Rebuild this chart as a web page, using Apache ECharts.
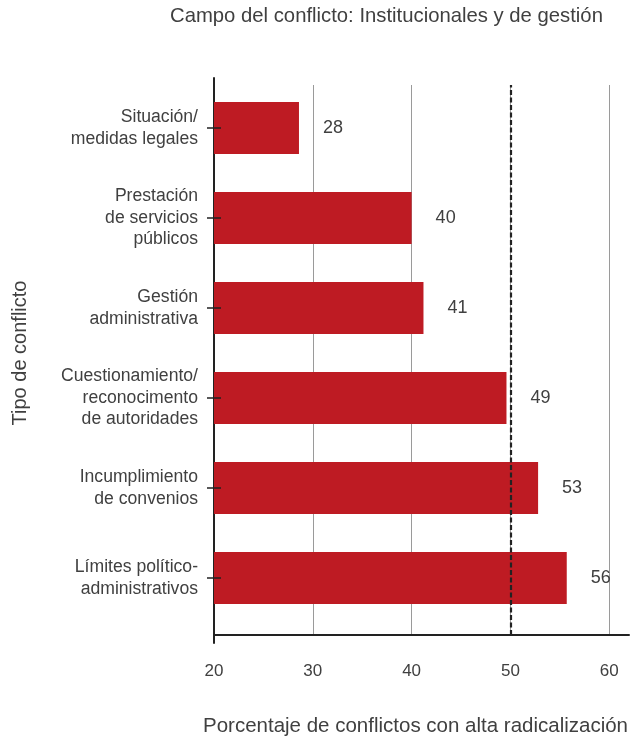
<!DOCTYPE html>
<html>
<head>
<meta charset="utf-8">
<script src="https://cdn.jsdelivr.net/npm/echarts@6/dist/echarts.min.js"></script>
<style>
  html, body { margin: 0; padding: 0; background: #fff; }
  #chart { width: 630px; height: 741px; }
</style>
</head>
<body>
<div id="chart"></div>
<script>
const categories = [
  'Situación/\nmedidas legales',
  'Prestación\nde servicios\npúblicos',
  'Gestión\nadministrativa',
  'Cuestionamiento/\nreconocimento\nde autoridades',
  'Incumplimiento\nde convenios',
  'Límites político-\nadministrativos'
];
const values = [28.6, 40.0, 41.2, 49.6, 52.8, 55.7];
const valueLabels = ['28', '40', '41', '49', '53', '56'];
const threshold = 50;
const xTicks = [20, 30, 40, 50, 60];

const textColor = '#404040';
const axisColor = '#222';

const chart = echarts.init(document.getElementById('chart'));

const option = {
  animation: false,
  textStyle: { fontFamily: 'Liberation Sans, Arial, sans-serif', color: textColor },
  title: {
    text: 'Campo del conflicto: Institucionales y de gestión',
    left: 165,
    top: 1,
    textStyle: { fontSize: 20.3, fontWeight: 'normal', color: textColor }
  },
  grid: [
    // bars
    { left: 214, width: 415, top: 83, height: 540, outerBoundsMode: 'none' },
    // gridlines, x axis, dashed line
    { left: 214, width: 415, top: 85, height: 550, outerBoundsMode: 'none' },
    // y axis line
    { left: 214, width: 415, top: 78, height: 565, outerBoundsMode: 'none' }
  ],
  xAxis: [
    { gridIndex: 0, type: 'value', min: 20, max: 62, interval: 10, show: false },
    {
      gridIndex: 1,
      type: 'value',
      min: 20,
      max: 62,
      interval: 10,
      axisLine: { show: true, lineStyle: { color: axisColor, width: 2 } },
      axisTick: { show: false },
      splitLine: {
        show: true,
        showMinLine: false,
        showMaxLine: false,
        lineStyle: { color: '#9a9a9a', width: 1 }
      },
      axisLabel: {
        margin: 28,
        fontSize: 17,
        color: textColor,
        showMaxLabel: false,
        formatter: (v) => (xTicks.includes(v) ? String(v) : '')
      },
      name: 'Porcentaje de conflictos con alta radicalización',
      nameLocation: 'middle',
      nameGap: 81,
      nameTextStyle: { fontSize: 20.5, color: textColor, padding: [0, 12, 0, 0] }
    },
    { gridIndex: 2, type: 'value', show: false }
  ],
  yAxis: [
    {
      gridIndex: 0,
      type: 'category',
      inverse: true,
      data: categories,
      axisLine: { show: false },
      axisTick: { show: true, alignWithLabel: true, length: 7, lineStyle: { color: axisColor, width: 1.5 } },
      axisLabel: { margin: 16, fontSize: 17.6, lineHeight: 21.5, color: textColor, align: 'right' },
      name: 'Tipo de conflicto',
      nameLocation: 'middle',
      nameGap: 184,
      nameRotate: 90,
      nameTextStyle: { fontSize: 20, color: textColor }
    },
    {
      // inner half of the ticks, drawn over the bars
      gridIndex: 0,
      type: 'category',
      position: 'left',
      offset: 0,
      inverse: true,
      z: 10,
      data: categories,
      axisLine: { show: false },
      axisTick: { show: true, inside: true, alignWithLabel: true, length: 7, lineStyle: { color: axisColor, width: 1.5 } },
      axisLabel: { show: false }
    },
    { gridIndex: 1, type: 'value', min: 0, max: 1, show: false },
    {
      gridIndex: 2,
      type: 'category',
      data: [''],
      axisLine: { show: true, lineStyle: { color: axisColor, width: 2 } },
      axisTick: { show: false },
      axisLabel: { show: false }
    }
  ],
  series: [
    {
      type: 'bar',
      xAxisIndex: 0,
      yAxisIndex: 0,
      data: values,
      barWidth: 52,
      itemStyle: { color: '#be1b23' },
      label: {
        show: true,
        position: 'right',
        distance: 24,
        fontSize: 18,
        color: textColor,
        formatter: (p) => valueLabels[p.dataIndex]
      },
      z: 3
    },
    {
      type: 'line',
      xAxisIndex: 1,
      yAxisIndex: 2,
      data: [],
      markLine: {
        silent: true,
        symbol: 'none',
        label: { show: false },
        lineStyle: { color: '#222', width: 2.2, type: [5, 2.5] },
        data: [{ xAxis: threshold }]
      },
      z: 4
    }
  ]
};

chart.setOption(option);
</script>
</body>
</html>
